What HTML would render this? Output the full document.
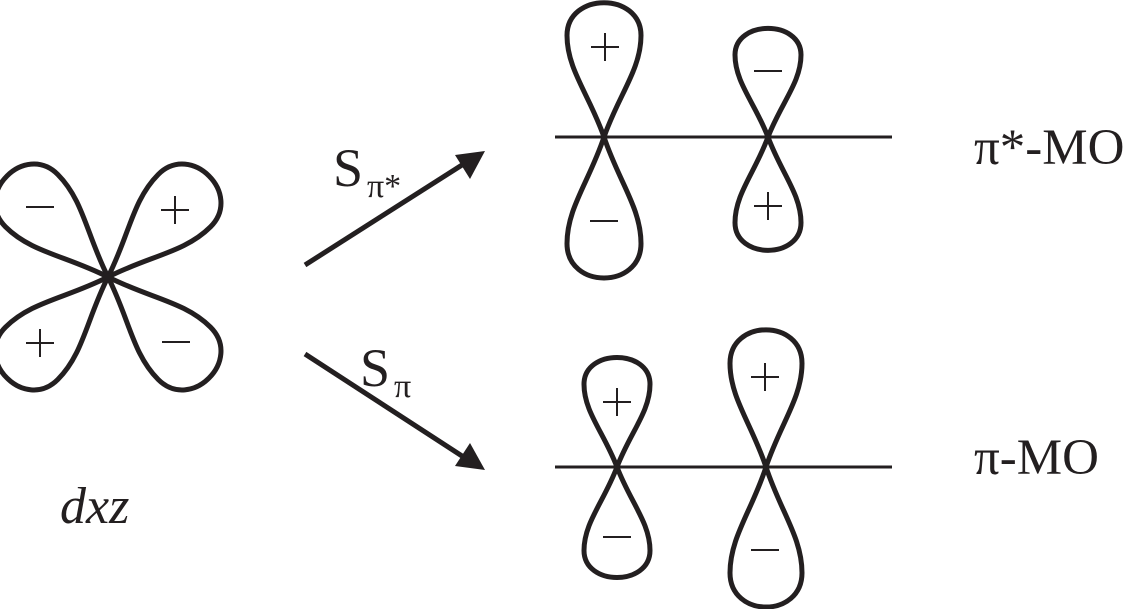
<!DOCTYPE html>
<html><head><meta charset="utf-8"><style>
html,body{margin:0;padding:0;background:#fff;}
svg{display:block;}
text{font-family:"Liberation Serif",serif;fill:#231f20;}
</style></head><body>
<svg width="1136" height="609" viewBox="0 0 1136 609" xmlns="http://www.w3.org/2000/svg">
<defs>
<path id="lobe" d="M0,0 C0.4,-0.3 1,-0.48 1,-0.72 C1,-1.03 -1,-1.03 -1,-0.72 C-1,-0.48 -0.4,-0.3 0,0Z" fill="none" stroke="#231f20" stroke-width="5" vector-effect="non-scaling-stroke"/>
</defs>
<g>
<use href="#lobe" transform="translate(108,277) rotate(45) scale(37,150)"/>
<use href="#lobe" transform="translate(108,277) rotate(-45) scale(37,150)"/>
<use href="#lobe" transform="translate(108,277) rotate(135) scale(37,150)"/>
<use href="#lobe" transform="translate(108,277) rotate(-135) scale(37,150)"/>
<line x1="555" y1="137" x2="892" y2="137" stroke="#231f20" stroke-width="3"/>
<use href="#lobe" transform="translate(604,137) scale(37,141)"/>
<use href="#lobe" transform="translate(604,137) rotate(180) scale(37,148)"/>
<use href="#lobe" transform="translate(768,137) scale(33,114)"/>
<use href="#lobe" transform="translate(768,137) rotate(180) scale(33,119)"/>
<line x1="555" y1="467" x2="892" y2="467" stroke="#231f20" stroke-width="3"/>
<use href="#lobe" transform="translate(617,467) scale(33,115)"/>
<use href="#lobe" transform="translate(617,467) rotate(180) scale(33,116)"/>
<use href="#lobe" transform="translate(766,467) scale(36,144)"/>
<use href="#lobe" transform="translate(766,467) rotate(180) scale(36,147)"/>
</g>
<g stroke="#231f20" stroke-width="2">
<line x1="26" y1="207" x2="54" y2="207"/>
<line x1="162" y1="342" x2="190" y2="342"/>
<line x1="590" y1="221" x2="618" y2="221"/>
<line x1="754" y1="71" x2="782" y2="71"/>
<line x1="603" y1="537" x2="631" y2="537"/>
<line x1="751" y1="550" x2="779" y2="550"/>
<line x1="161" y1="210" x2="189" y2="210"/><line x1="175" y1="196" x2="175" y2="224"/>
<line x1="26" y1="343" x2="54" y2="343"/><line x1="40" y1="329" x2="40" y2="357"/>
<line x1="591" y1="47" x2="619" y2="47"/><line x1="605" y1="33" x2="605" y2="61"/>
<line x1="754" y1="206" x2="782" y2="206"/><line x1="768" y1="192" x2="768" y2="220"/>
<line x1="603" y1="402" x2="631" y2="402"/><line x1="617" y1="388" x2="617" y2="416"/>
<line x1="751" y1="377" x2="779" y2="377"/><line x1="765" y1="363" x2="765" y2="391"/>
</g>
<g stroke="#231f20" stroke-width="5">
<line x1="305" y1="265" x2="462" y2="165"/>
<line x1="305" y1="354" x2="462" y2="456"/>
</g>
<polygon points="485,151 455,155 470,179" fill="#231f20"/>
<polygon points="485,470 455,466 470,443" fill="#231f20"/>
<text x="333" y="186" font-size="54">S</text>
<text x="367" y="197" font-size="34">π*</text>
<text x="360" y="386" font-size="54">S</text>
<text x="394" y="397" font-size="34">π</text>
<text x="974" y="164" font-size="51">π*-MO</text>
<text x="974" y="474" font-size="51">π-MO</text>
<text x="60" y="523" font-size="52" font-style="italic">dxz</text>
</svg>
</body></html>
